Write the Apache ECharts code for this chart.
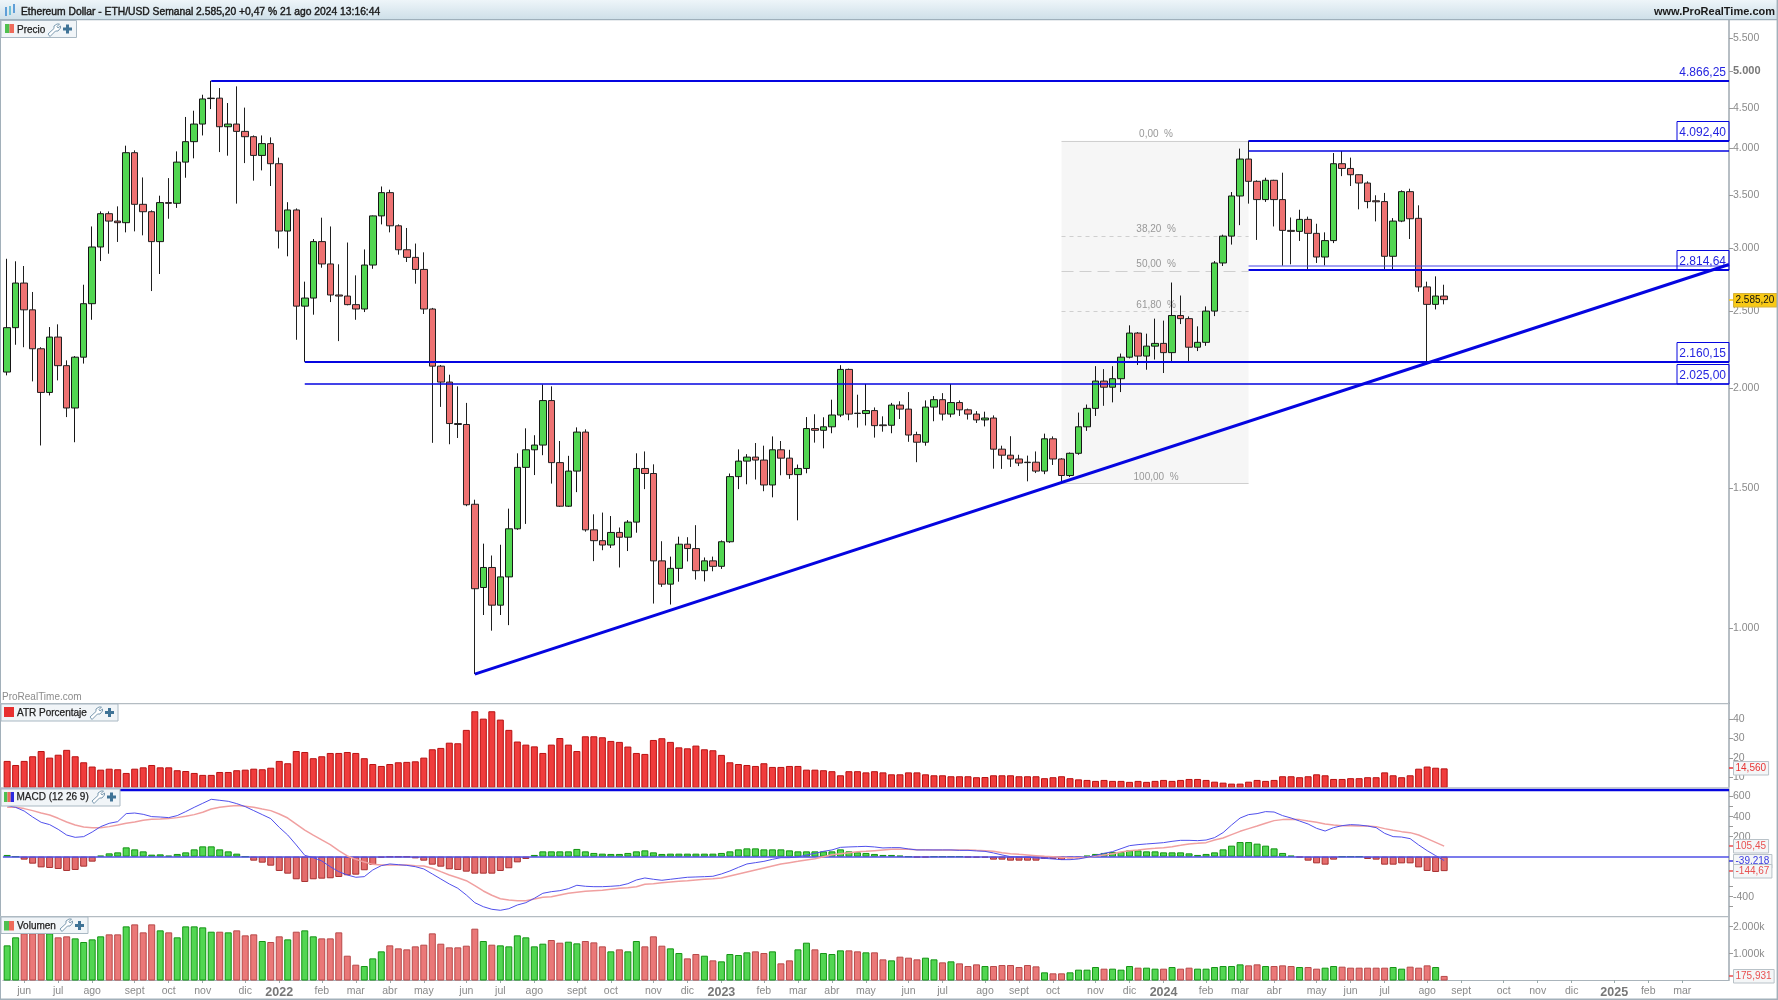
<!DOCTYPE html>
<html><head><meta charset="utf-8">
<style>html,body{margin:0;padding:0;background:#fff}#c{width:1778px;height:1000px}</style>
<script src="https://cdn.jsdelivr.net/npm/echarts@6/dist/echarts.min.js"></script>
</head><body><div id="c"></div>
<script>
const opens=[2097,2384,2712,2510,2243,1977,2320,2136,1890,2189,2555,3010,3314,3244,3229,3953,3405,3333,3057,3422,3415,3847,4081,4294,4622,4628,4261,4294,4204,4140,3922,4058,3829,3152,3350,2537,2597,3057,2866,2620,2612,2548,2516,2857,3293,3522,3200,2986,2921,2821,2516,2133,2037,1807,1802,1431,1125,1192,1069,1160,1333,1592,1675,1698,1931,1614,1423,1575,1763,1329,1288,1272,1319,1301,1359,1587,1564,1215,1136,1189,1275,1259,1181,1215,1196,1284,1550,1621,1640,1626,1513,1675,1635,1559,1587,1781,1772,1790,1852,2113,1862,1860,1876,1800,1798,1906,1884,1750,1712,1895,1936,1857,1920,1880,1857,1826,1836,1678,1649,1631,1616,1616,1575,1729,1631,1555,1658,1790,1888,2043,2007,2057,2189,2347,2196,2260,2278,2218,2469,2447,2253,2285,2501,2874,3106,3488,3881,3639,3452,3650,3452,3158,3149,3260,3131,2924,3066,3829,3777,3709,3621,3440,3432,2930,3244,3532,3270,2682,2550,2612];
const closes=[2384,2712,2510,2243,1977,2320,2136,1890,2189,2555,3010,3314,3244,3229,3953,3405,3333,3057,3422,3415,3847,4081,4294,4617,4628,4261,4294,4204,4140,3922,4058,3829,3152,3350,2537,2597,3057,2866,2620,2612,2548,2516,2857,3293,3522,3200,2986,2921,2821,2516,2133,2037,1807,1802,1429,1121,1192,1069,1160,1333,1592,1675,1698,1931,1614,1423,1575,1763,1329,1288,1272,1319,1301,1359,1587,1564,1215,1136,1189,1275,1259,1181,1215,1196,1284,1550,1621,1640,1626,1513,1675,1635,1559,1587,1781,1772,1790,1852,2113,1857,1860,1876,1796,1796,1906,1884,1748,1712,1895,1936,1857,1920,1880,1857,1826,1836,1678,1649,1631,1612,1614,1575,1729,1631,1555,1658,1790,1888,2043,2007,2057,2189,2347,2196,2260,2278,2218,2469,2447,2253,2285,2501,2874,3106,3488,3881,3639,3452,3650,3452,3158,3149,3260,3131,2924,3066,3829,3777,3709,3621,3432,3430,2930,3244,3532,3266,2682,2550,2612,2585.2];
const lows=[2077,2269,2253,2041,1696,1960,2047,1841,1712,2149,2439,2890,2952,3054,3140,3149,3113,2650,2784,3266,3370,3677,3889,4155,4484,3960,3919,3412,3836,3646,3756,3590,2997,2930,2302,2160,2475,2835,2567,2293,2543,2439,2494,2826,3213,3140,2944,2882,2707,2480,1709,1896,1702,1733,1423,876,1039,993,1039,1009,1329,1352,1557,1649,1519,1420,1420,1482,1322,1214,1253,1261,1192,1250,1318,1495,1074,1127,1071,1144,1213,1151,1145,1179,1187,1280,1495,1516,1537,1486,1460,1556,1540,1366,1565,1710,1682,1757,1841,1824,1786,1797,1735,1765,1757,1831,1714,1616,1695,1819,1823,1840,1847,1828,1810,1792,1586,1585,1594,1598,1529,1566,1561,1603,1529,1548,1651,1769,1847,1902,1921,1979,2181,2140,2111,2174,2091,2160,2409,2160,2228,2262,2465,2849,3031,3206,3412,3072,3429,3194,2852,2863,3063,2821,2874,2854,3044,3694,3590,3356,3366,3241,2821,2821,3234,3080,2645,2160,2513,2550];
const highs=[2909,2888,2849,2643,2253,2388,2407,2169,2196,2699,3194,3336,3336,3385,4034,3980,3680,3346,3491,3673,3968,4383,4463,4674,4866,4765,4563,4788,4503,4155,4155,4132,3897,3426,3365,2723,3080,3276,3194,2863,3049,2773,2989,3297,3585,3552,3213,3180,3040,2964,2524,2140,2081,2012,1918,1450,1277,1234,1273,1413,1658,1782,1747,2023,2012,1718,1646,1787,1777,1390,1397,1383,1338,1367,1658,1667,1606,1286,1230,1303,1301,1347,1227,1230,1289,1564,1677,1654,1708,1695,1741,1718,1675,1605,1841,1856,1840,1936,2139,2118,1964,2026,1893,1845,1918,1927,1979,1765,1932,1956,1973,2026,1932,1887,1873,1870,1850,1695,1742,1651,1647,1667,1755,1741,1635,1662,1865,1909,2133,2115,2133,2212,2400,2354,2343,2447,2433,2716,2616,2463,2393,2535,2890,3119,3528,4000,4092,3650,3677,3655,3731,3278,3352,3286,3219,3140,3949,3972,3897,3713,3639,3495,3519,3272,3545,3562,3395,2723,2765,2699];
const atr=[18.4,16.3,18.4,20.8,23.5,20.1,21.6,24.1,20.8,17.7,15.5,13.9,14.4,14.1,12.2,14.4,15.1,16.3,15.1,15.1,13.6,13.2,12.2,11.2,11.2,12.7,12.7,13.6,13.9,14.4,14.1,14.9,18.4,17.2,23.5,23.0,19.8,20.8,22.5,22.5,23.0,22.5,19.8,16.8,15.8,16.8,17.7,17.9,18.2,20.1,24.4,25.1,27.8,27.5,34.4,44.0,40.2,44.0,39.7,34.4,28.4,26.8,25.9,22.5,26.8,30.2,26.8,23.5,31.1,31.1,30.6,28.7,28.2,25.8,22.5,22.0,29.2,30.1,28.2,25.4,24.9,26.3,24.4,23.9,21.5,17.7,16.8,16.3,15.8,17.2,15.3,15.3,15.8,15.8,13.9,13.9,13.6,13.1,11.0,13.1,13.1,12.5,13.1,12.5,11.5,11.5,12.5,12.5,11.5,11.0,11.0,10.5,10.5,10.5,10.0,10.1,11.0,11.0,11.0,10.5,10.5,10.5,9.5,10.0,10.5,9.5,8.9,8.6,8.1,8.6,8.1,8.1,7.6,8.1,7.6,8.1,8.6,8.1,8.6,9.1,9.1,8.6,7.7,7.2,6.7,6.7,7.7,8.6,8.1,8.6,10.5,10.5,10.0,10.5,11.5,11.0,9.1,9.1,9.5,9.5,10.0,10.0,12.5,11.0,10.0,11.0,14.4,15.5,14.9,14.56];
const macdHist=[17,0,-30,-70,-107,-113,-123,-143,-133,-100,-50,10,33,43,93,73,53,20,23,10,27,43,73,103,103,73,53,30,0,-40,-60,-90,-143,-170,-226,-253,-226,-220,-216,-203,-186,-180,-136,-83,-10,-3,-3,-3,-17,-40,-80,-100,-126,-133,-150,-170,-170,-170,-143,-116,-57,-23,17,53,53,53,53,77,53,37,30,27,27,37,53,63,43,27,30,30,30,30,30,30,37,53,73,83,83,73,73,73,63,53,53,53,53,53,73,53,43,37,27,17,17,10,0,-7,-7,0,0,0,0,-7,-10,-10,-30,-30,-40,-40,-40,-40,-23,-23,-33,-17,-17,10,27,37,47,47,63,63,53,53,43,43,43,33,17,27,43,73,110,146,146,130,110,83,37,10,-7,-40,-67,-80,-30,0,0,0,-23,-30,-80,-80,-67,-67,-107,-143,-153,-144.67];
const macdLine=[510,493,456,396,343,320,273,216,193,200,246,300,333,350,430,436,423,400,396,390,410,450,493,533,573,563,553,530,500,460,420,380,293,216,117,13,-10,-43,-100,-150,-183,-206,-200,-133,-90,-73,-80,-87,-100,-123,-173,-223,-273,-316,-383,-460,-500,-526,-536,-520,-483,-460,-416,-366,-350,-340,-320,-286,-296,-300,-300,-296,-290,-270,-233,-213,-226,-236,-226,-216,-206,-203,-200,-196,-173,-143,-107,-73,-60,-47,-27,-10,-10,-3,17,33,53,67,93,97,100,103,97,87,90,90,77,67,67,67,67,67,63,63,57,53,37,17,0,-3,-7,-13,-17,-23,-30,-30,-23,-7,13,33,50,80,110,120,127,133,140,153,163,163,160,166,190,240,316,386,420,430,450,446,410,386,356,326,283,256,290,310,320,316,306,290,233,200,196,180,117,60,10,-39.2];
const macdSignal=[493,493,480,460,436,416,383,346,316,296,290,290,300,316,333,346,363,373,376,380,390,403,420,443,476,493,503,510,503,493,476,460,426,386,326,266,216,167,120,60,7,-27,-53,-77,-83,-83,-83,-83,-90,-93,-116,-150,-183,-210,-240,-290,-343,-386,-420,-433,-440,-440,-423,-406,-400,-383,-366,-356,-346,-340,-336,-326,-316,-310,-300,-276,-270,-260,-253,-246,-240,-233,-226,-220,-213,-193,-173,-153,-133,-113,-93,-73,-60,-47,-33,-20,0,20,30,40,50,53,60,67,73,73,73,70,70,67,67,67,67,67,63,60,53,40,30,23,17,10,3,0,-7,-10,-10,-7,7,17,30,47,60,67,77,83,90,100,113,127,133,140,166,186,220,253,280,306,333,360,370,373,370,356,343,326,316,310,310,306,306,300,280,263,250,240,216,180,143,105.45];
const volumeK=[1309,1606,1754,1754,1754,1754,1606,1643,1568,1433,1531,1643,1717,1717,2013,2087,1791,2087,1865,1791,1606,2013,2013,1976,1815,1815,1791,1865,1680,1717,1470,1433,1643,1531,1815,1865,1643,1568,1568,1791,926,593,543,827,1087,1309,1198,1161,1272,1334,1754,1371,1235,1235,1297,1927,1470,1334,1309,1272,1680,1606,1272,1371,1507,1408,1445,1383,1470,1420,1272,1087,1161,1087,1470,1272,1643,1297,1198,1025,827,988,926,753,716,988,951,1050,1087,1025,1087,642,753,1161,1408,1161,1025,988,1124,1124,1087,1050,1050,790,753,889,852,790,852,790,679,716,642,543,605,543,543,580,580,506,580,531,309,272,272,309,408,408,506,445,445,408,543,482,482,445,445,506,445,482,445,445,506,543,543,605,568,605,543,543,568,543,506,506,445,482,543,519,482,482,482,482,482,506,445,519,482,568,506,175.9];

const monthIdx=[2,6,10,15,19,23,28,32,37,41,45,49,54,58,62,67,71,76,80,84,89,93,97,101,106,110,115,119,123,128,132,136,141,145,149,154,158,162,167,171,176,180,184,189,193,197];
const monthLbl=['jun','jul','ago','sept','oct','nov','dic','2022','feb','mar','abr','may','jun','jul','ago','sept','oct','nov','dic','2023','feb','mar','abr','may','jun','jul','ago','sept','oct','nov','dic','2024','feb','mar','abr','may','jun','jul','ago','sept','oct','nov','dic','2025','feb','mar'];
const weekSlots=203;
const priceTicks=[5500,5000,4500,4000,3500,3000,2500,2000,1500,1000];
const atrTicks=[40,30,20,10];
const macdTicks=[600,400,200,-400];
const macdMinorTicks=[600,500,400,300,200,-300,-400,-500];
const volTicks=[2000,1000];

const levelValues=[4866.25,4092.40,3977,2852,2814.64,2160.15,2025.00];
const levelStart=[24,146,146,146,146,35,35];
const levelWeights=[2,2,1.5,1,2,2,1.5];
const levelTagValues=[4866.25,4092.40,2814.64,2160.15,2025.00];
const levelTagText=['4.866,25','4.092,40','2.814,64','2.160,15','2.025,00'];
const trendIdx=[55,202], trendVal=[876,2850];
const fibIdx=[124,146];
const fibPct=['0,00  %','38,20  %','50,00  %','61,80  %','100,00  %'];
const fibPrice=[4092,3110,2812,2500,1520];

const FONT='"Liberation Sans",Arial,sans-serif';
const BLUE='#0505e0', GREEN='#52d652', GREEN_B='#149414', RED='#ee7272', RED_B='#a83030';
const cats=Array.from({length:weekSlots},(_,i)=>i);
const labelMap={}; monthIdx.forEach((m,i)=>labelMap[m]=monthLbl[i]);

const L=2.9,W=1726.1;
const panes=[{top:20.4,h:682.9},{top:703.3,h:84},{top:789,h:127},{top:916.7,h:63.3}];
const grid=panes.map(p=>({left:L,width:W,top:p.top,height:p.h,containLabel:false}));
const xAxis=panes.map((p,i)=>({type:'category',gridIndex:i,data:cats,boundaryGap:true,show:i===3,
  axisLine:{lineStyle:{color:'#aab4bb'}},
  axisTick:{show:true,alignWithLabel:true,length:3,interval:(idx)=>idx in labelMap,lineStyle:{color:'#9aa'}},
  axisLabel:{interval:(idx)=>idx in labelMap,margin:6,color:'#8a8a8a',fontFamily:FONT,fontSize:10.5,
    formatter:(v)=>{const t=labelMap[v]||'';return /^\d/.test(t)?'{y|'+t+'}':t;},
    rich:{y:{fontWeight:'bold',fontSize:12.5,color:'#777',fontFamily:FONT}}},
  splitLine:{show:false}}));
const yBase=(i,over)=>Object.assign({gridIndex:i,position:'right',scale:false,splitLine:{show:false},minorTick:{show:false},
  axisLine:{show:true,lineStyle:{color:'#9fa9b1',width:1.5}},
  axisTick:{show:true,length:4,lineStyle:{color:'#999'}}},over);
const lbl={color:'#8a8a8a',fontFamily:FONT,fontSize:10.5,margin:4,showMinLabel:true,showMaxLabel:true};
const yAxis=[
 yBase(0,{type:'log',logBase:10,min:805,max:5794,axisTick:{show:true,length:4,customValues:priceTicks,lineStyle:{color:'#999'}},
   axisLabel:Object.assign({},lbl,{customValues:priceTicks,formatter:(v)=>{const r=Math.round(v);const s=String(r).replace(/(\d)(\d{3})$/,'$1.$2');return r===5000?'{b|'+s+'}':s;},rich:{b:{fontWeight:'bold',fontSize:11,color:'#777',fontFamily:FONT}}})}),
 yBase(1,{type:'value',min:4.8,max:48.1,axisTick:{show:true,length:4,customValues:atrTicks,lineStyle:{color:'#999'}},axisLabel:Object.assign({},lbl,{customValues:atrTicks})}),
 yBase(2,{type:'value',min:-593,max:676,axisTick:{show:true,length:4,customValues:macdMinorTicks,lineStyle:{color:'#999'}},axisLabel:Object.assign({},lbl,{customValues:macdTicks})}),
 yBase(3,{type:'value',min:25,max:2371,axisTick:{show:true,length:4,customValues:volTicks,lineStyle:{color:'#999'}},axisLabel:Object.assign({},lbl,{customValues:volTicks,formatter:(v)=>String(v).replace(/(\d)(\d{3})$/,'$1.$2')+'k'})})
];

const candleData=opens.map((o,i)=>[o,closes[i],lows[i],highs[i]]);
const isUp=i=>closes[i]>opens[i];
const volData=volumeK.map((v,i)=>({value:v,itemStyle:isUp(i)?{color:GREEN,borderColor:GREEN_B,borderWidth:1}:{color:'#ea7878',borderColor:'#b84a4a',borderWidth:1}}));
const histData=macdHist.map(v=>({value:v,itemStyle:v>=0?{color:GREEN,borderColor:GREEN_B,borderWidth:1}:{color:'#e46c6c',borderColor:RED_B,borderWidth:1}}));

function hLine(a,cs,w,c){const y=Math.round(a[1]);return {type:'line',shape:{x1:a[0],y1:y,x2:cs.x+cs.width,y2:y},style:{stroke:c,lineWidth:w}};}
function tagWidth(t){let w=0;for(const ch of t){w+=/\d/.test(ch)?5.56:(ch==='-'?3.33:2.78);}return w+4.5;}

function rightTags(gi,values,texts,bg,fg,border,tickColors){
  return {type:'custom',name:'tags'+gi,xAxisIndex:gi,yAxisIndex:gi,clip:false,z:20,silent:true,
   data:values.map((v,i)=>[169,v]),
   renderItem:(p,api)=>{const i=p.dataIndex;const a=api.coord([169,values[i]]);const cs=p.coordSys;const x=cs.x+cs.width;const y=Math.round(a[1]);
     return {type:'group',children:[
       {type:'line',shape:{x1:x,y1:y,x2:x+4,y2:y},style:{stroke:tickColors[i],lineWidth:1.5}},
       {type:'rect',shape:{x:x+4.5,y:y-6.5,width:tagWidth(texts[i]),height:13.5},style:{fill:bg[i],stroke:border[i],lineWidth:1}},
       {type:'text',x:x+6.5,y:y+.5,style:{text:texts[i],fill:fg[i],font:'10px '+FONT,verticalAlign:'middle',textAlign:'left'}}
     ]};}};
}

const series=[
 {type:'custom',name:'fib',xAxisIndex:0,yAxisIndex:0,z:1,silent:true,data:fibPrice.map(v=>[fibIdx[0],v]),
  renderItem:(p,api)=>{const i=p.dataIndex;const a=api.coord([fibIdx[0],fibPrice[i]]);const b=api.coord([fibIdx[1],fibPrice[i]]);const kids=[];
    if(i===0){const c=api.coord([fibIdx[1],fibPrice[4]]);kids.push({type:'rect',shape:{x:a[0],y:a[1],width:c[0]-a[0],height:c[1]-a[1]},style:{fill:'#f6f6f6'}});}
    const dashed=i>0&&i<4;
    kids.push({type:'line',shape:{x1:a[0],y1:Math.round(a[1])+.5,x2:b[0],y2:Math.round(a[1])+.5},style:{stroke:'#cfcfcf',lineWidth:1,lineDash:dashed?(i===2?[12,6]:[4,4]):null}});
    kids.push({type:'text',x:(a[0]+b[0])/2+1,y:a[1]-6,style:{text:fibPct[i],fill:'#989898',font:'10px '+FONT,textAlign:'center',verticalAlign:'middle'}});
    return {type:'group',children:kids};}},
 {type:'candlestick',name:'ETH/USD',xAxisIndex:0,yAxisIndex:0,barWidth:7,z:5,data:candleData,silent:true,
  itemStyle:{color:GREEN,color0:RED,borderColor:'#161616',borderColor0:'#202020',borderWidth:1}},
 {type:'custom',name:'levels',xAxisIndex:0,yAxisIndex:0,z:8,silent:true,data:levelValues.map((v,i)=>[levelStart[i],v]),
  renderItem:(p,api)=>{const i=p.dataIndex;return hLine(api.coord([levelStart[i],levelValues[i]]),p.coordSys,levelWeights[i],i===3?'#4444e6':BLUE);}},
 {type:'custom',name:'trend',xAxisIndex:0,yAxisIndex:0,z:9,silent:true,data:[[trendIdx[0],trendVal[0]]],
  renderItem:(p,api)=>{const a=api.coord([trendIdx[0],trendVal[0]]),b=api.coord([trendIdx[1],trendVal[1]]);const cs=p.coordSys;const xe=cs.x+cs.width;const ye=a[1]+(b[1]-a[1])*(xe-a[0])/(b[0]-a[0]);
    return {type:'line',shape:{x1:a[0],y1:a[1],x2:xe,y2:ye},style:{stroke:BLUE,lineWidth:3}};}},
 {type:'custom',name:'levelTags',xAxisIndex:0,yAxisIndex:0,z:10,silent:true,data:levelTagValues.map(v=>[202,v]),
  renderItem:(p,api)=>{const i=p.dataIndex;const a=api.coord([202,levelTagValues[i]]);const cs=p.coordSys;const xr=cs.x+cs.width;const y=Math.round(a[1]);const kids=[];
    if(i>0)kids.push({type:'rect',shape:{x:xr-52,y:y-19.5,width:52,height:19.5},style:{fill:'none',stroke:BLUE,lineWidth:1}});
    kids.push({type:'text',x:xr-3,y:y-8.5,style:{text:levelTagText[i],fill:'#2424e0',font:'12px '+FONT,textAlign:'right',verticalAlign:'middle'}});
    return {type:'group',children:kids};}},
 rightTags(0,[closes[169]],['2.585,20'],['#f8c916'],['#111'],['#d6b23a'],['#f8c916']),

 {type:'bar',name:'ATR',xAxisIndex:1,yAxisIndex:1,barWidth:7,z:3,data:atr,silent:true,itemStyle:{color:'#f03c3c',borderColor:'#b81212',borderWidth:1}},
 rightTags(1,[atr[169]],['14,560'],['#f4f6f7'],['#e83434'],['#b9c2c8'],['#e83434']),

 {type:'bar',name:'Hist',xAxisIndex:2,yAxisIndex:2,barWidth:7,z:3,data:histData,silent:true},
 {type:'custom',name:'macdBorder',xAxisIndex:2,yAxisIndex:2,z:4,silent:true,data:[[0,669]],
  renderItem:(p,api)=>hLine([p.coordSys.x-3,api.coord([0,669])[1]],p.coordSys,2.5,BLUE)},
 {type:'custom',name:'zero',xAxisIndex:2,yAxisIndex:2,z:4,silent:true,data:[[0,0]],
  renderItem:(p,api)=>hLine([p.coordSys.x,api.coord([0,0])[1]],p.coordSys,1.5,'#4f4fe6')},
 {type:'line',name:'Signal',xAxisIndex:2,yAxisIndex:2,z:6,data:macdSignal,symbol:'none',silent:true,lineStyle:{color:'#f0a0a0',width:1.5}},
 {type:'line',name:'MACD',xAxisIndex:2,yAxisIndex:2,z:7,data:macdLine,symbol:'none',silent:true,lineStyle:{color:'#5050ec',width:1}},
 rightTags(2,[macdSignal[169],macdLine[169],macdHist[169]],['105,45','-39,218','-144,67'],['#f4f6f7','#f4f6f7','#f4f6f7'],['#e85050','#3a3ae0','#e85050'],['#b9c2c8','#b9c2c8','#b9c2c8'],['#e85050','#3a3ae0','#e85050']),

 {type:'bar',name:'Volumen',xAxisIndex:3,yAxisIndex:3,barWidth:7,z:3,data:volData,silent:true},
 rightTags(3,[volumeK[169]],['175,931'],['#f4f6f7'],['#e85050'],['#b9c2c8'],['#e85050'])
];

function rect(x,y,w,h,fill,extra){return Object.assign({type:'rect',z:100,silent:true,shape:{x,y,width:w,height:h},style:{fill}},extra||{});}
function txt(x,y,t,font,fill,align,heavy){return {type:'text',z:102,silent:true,x,y,style:{text:t,font:font+' '+FONT,fill,textAlign:align||'left',verticalAlign:'middle',stroke:heavy?fill:null,lineWidth:heavy||0}};}
function wrench(x,y){return {type:'polygon',z:102,silent:true,x,y,shape:{points:[[0,10],[6,4.5],[6,2],[9,0],[11.5,0],[9,2.5],[10,4],[12.5,2],[12.5,4],[10,7],[7.5,7],[2,12.5]]},style:{fill:'#fff',stroke:'#7b9ab0',lineWidth:1}};}
function plus(x,y){return {type:'polygon',z:102,silent:true,x,y,shape:{points:[[3,0],[6,0],[6,3],[9,3],[9,6],[6,6],[6,9],[3,9],[3,6],[0,6],[0,3],[3,3]]},style:{fill:'#3f7396'}};}
function legendBox(x,y,w,h){return {type:'rect',z:101,silent:true,shape:{x,y,width:w,height:h},style:{fill:'#f1f5f8',stroke:'#a9b8c3',lineWidth:1}};}
const graphicEls=[
 {type:'rect',z:100,silent:true,shape:{x:0,y:0,width:1778,height:19},style:{fill:{type:'linear',x:0,y:0,x2:0,y2:1,colorStops:[{offset:0,color:'#eef5f9'},{offset:1,color:'#cfe0e9'}]}}},
 rect(0,19,1778,1.2,'#9fb0bb'),
 rect(0,20,1,980,'#a2b0ba'), rect(1776.6,0,1.4,1000,'#a2b0ba'), rect(0,998.6,1778,1.4,'#a2b0ba'),
 rect(0,703,1729,1.2,'#b4bcc2'), rect(0,787.2,1729,1.2,'#b4bcc2'), rect(0,916,1729,1.2,'#b4bcc2'),
 rect(5,7,2,9,'#5f9fd8'), rect(9,6,2,9,'#6fc0d8'), rect(13,4,2,9,'#5f9fd8'),
 txt(21,12,'Ethereum Dollar - ETH/USD Semanal 2.585,20 +0,47 % 21 ago 2024 13:16:44','10.3px','#1a1a1a','left',0.4),
 txt(1775,12,'www.ProRealTime.com','bold 11px','#1a1a1a','right'),
 legendBox(1,20.5,75.5,17), rect(5,24,4.5,9,'#4fc04f',{z:102}), rect(9.5,24,4.5,9,'#ee6a5a',{z:102}),
 txt(17,30,'Precio','10px','#222','left',0.25), wrench(48,24), plus(63,24.5),
 txt(2,697,'ProRealTime.com','10px','#8c8c8c'),
 legendBox(1,704,117,17), rect(4,707,10,10,'#e83030',{z:102}), txt(17,713,'ATR Porcentaje','10px','#222','left',0.25), wrench(90,707), plus(105,708),
 legendBox(1,789,119,17), rect(4,792,3.4,10,'#4fc04f',{z:102}), rect(7.4,792,3.3,10,'#ee6a5a',{z:102}), rect(10.7,792,3.3,10,'#2a2ae0',{z:102}), txt(16.5,797.5,'MACD (12 26 9)','10px','#222','left',0.25), wrench(92,791), plus(107,792.5),
 legendBox(1,917,87,16.5), rect(4,921,5,9.5,'#4fc04f',{z:102}), rect(9,921,5,9.5,'#ee6a5a',{z:102}), txt(17,926,'Volumen','10px','#222','left',0.25), wrench(60,919), plus(75,921)
];

const chart=echarts.init(document.getElementById('c'),null,{renderer:'canvas'});
chart.setOption({animation:false,backgroundColor:'#fff',grid,xAxis,yAxis,series,graphic:{elements:graphicEls},tooltip:{show:false}});
</script></body></html>
